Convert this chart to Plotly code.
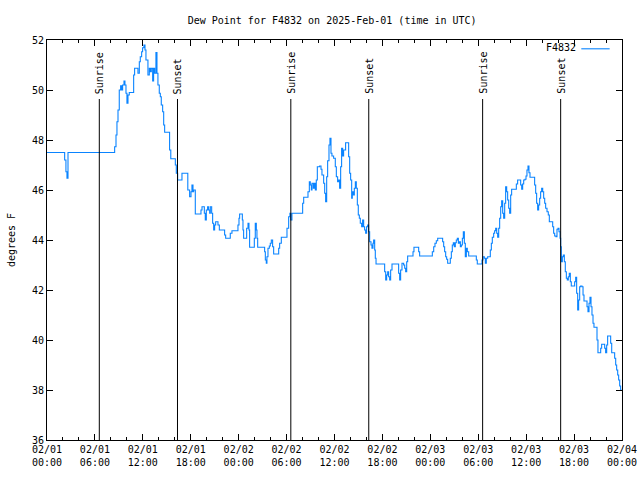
import plotly.graph_objects as go

# Hours since 2025-02-01 00:00 UTC, and dew point (F)
hours = [
    0, 2.21, 2.37, 2.5, 2.63, 8.47, 8.64, 8.76, 8.89, 9.05, 9.22, 9.34, 9.47, 9.64, 9.76, 9.89,
    10.01, 10.14, 10.30, 10.85, 10.97, 11.39, 11.56, 11.68, 11.85, 11.97, 12.14, 12.27, 12.39,
    12.64, 12.81, 12.93, 13.06, 13.23, 13.35, 13.48, 13.64, 13.77, 13.89, 14.06, 14.19, 14.31,
    14.48, 14.61, 14.73, 15.35, 15.5,
    16.07, 16.19, 16.36, 16.9, 17.63, 17.86, 18.03, 18.15, 18.28, 18.36, 18.57, 19.28, 19.41,
    19.70, 19.82, 19.95, 20.11, 20.24, 20.37, 20.45, 20.62, 20.74, 20.87, 20.99, 21.12, 21.41,
    21.58, 22.24, 22.37, 22.95, 23.16, 23.91, 24.04, 24.12, 24.46, 24.54, 24.62, 25.0, 25.17,
    25.29, 25.37, 25.96, 26.08, 26.21, 26.29, 26.38, 27.25, 27.34, 27.46, 27.54, 27.67, 27.84,
    27.96, 28.09, 28.25, 28.38, 29.01, 29.13, 29.34,
    30.05, 30.26, 30.42, 30.51, 30.67, 32.01, 32.14, 32.68, 32.85, 32.97, 33.10, 33.18, 33.35,
    33.47, 33.60, 33.72, 33.85, 34.14, 34.31, 34.43, 34.64, 34.77, 34.89, 35.02, 35.14, 35.31,
    35.43, 35.56, 35.68, 35.89, 36.10, 36.23, 36.39, 36.52, 36.64, 36.77, 36.89, 37.02, 37.14,
    37.39, 37.77, 37.90, 38.02, 38.15, 38.23, 38.35, 38.48, 38.61, 38.73, 38.86, 38.98, 39.11,
    39.23, 39.40, 39.52, 39.65, 39.77, 39.90, 40.02, 40.15, 40.27,
    40.40, 40.57, 40.69, 40.82, 40.90, 41.03, 41.11, 41.20, 42.28, 42.41, 42.53, 42.66, 42.78,
    42.91, 43.03, 43.20, 44.03, 44.16, 44.28, 44.45, 44.66, 44.79, 44.91, 45.04, 45.16, 45.83,
    45.95, 46.54, 46.66, 48.25, 48.42, 48.58, 48.75, 48.92, 49.54, 49.67, 49.79, 49.92, 50.04,
    50.17, 50.50, 50.63, 50.75, 50.88, 51.00, 51.13, 51.25, 51.38, 51.51, 51.63, 51.76, 51.88,
    52.01, 52.13, 52.26, 52.38, 52.51, 52.63, 52.80, 53.76, 53.88,
    54.47, 54.59, 54.76, 54.89, 55.01, 55.18, 55.51, 55.64, 55.76, 55.93, 56.05, 56.18, 56.31,
    56.43, 56.56, 56.68, 56.81, 56.93, 57.06, 57.18, 57.31, 57.43, 57.56, 57.68, 57.81, 57.93,
    58.06, 58.18, 58.77, 58.93, 59.31, 59.44, 59.56, 59.69, 59.85, 59.98, 60.10, 60.23, 60.35,
    60.48, 61.06, 61.19, 61.31, 61.44, 61.56, 61.69, 61.81, 61.94, 62.07, 62.19, 62.32, 62.44,
    62.61, 62.77, 62.90, 63.32, 63.44, 63.57, 63.73, 63.86, 63.99, 64.11, 64.24, 64.32, 64.40,
    64.53, 64.65, 64.78, 64.90, 65.03, 65.15, 65.28, 65.40, 65.53, 65.65, 66.07, 66.20, 66.32,
    66.45, 66.57, 66.70, 66.82, 66.99, 67.12, 67.24, 67.62, 67.74, 67.87, 67.99, 68.12, 68.24,
    68.37, 68.49, 68.87, 68.99, 69.33, 69.45, 69.83, 69.95, 70.08, 70.20, 70.58, 70.71, 71.08,
    71.21, 71.33, 71.46, 71.58, 71.71, 71.83, 71.95,
]
dewpoint = [
    47.5, 47.2, 46.73, 46.47, 47.5, 47.73, 48.2, 48.73, 49.2, 50.0, 50.17, 50.0, 50.2, 50.36, 50.2, 49.87,
    49.47, 49.8, 49.9, 50.6, 50.87, 50.67, 51.13, 51.33, 51.53, 51.69, 51.8, 51.6, 51.2,
    50.6, 50.87, 50.73, 50.87, 50.36, 50.87, 50.67, 51.5, 50.67, 50.2, 49.87, 49.73, 49.4,
    49.13, 48.6, 48.31, 47.6, 47.25,
    47.0, 46.67, 46.4, 46.67, 46.0, 45.73, 45.93, 46.2, 45.93, 46.0, 45.04, 45.2, 45.33,
    45.07, 44.8, 45.2, 45.33, 45.2, 45.07, 45.33, 45.07, 44.67, 44.4, 44.6, 44.73, 44.6,
    44.4, 44.2, 44.07, 44.27, 44.37, 44.6, 44.87, 45.04, 44.8, 44.4, 44.07, 44.47, 44.67,
    44.4, 43.71, 44.07, 44.67, 44.4, 44.07, 43.71, 43.53, 43.2, 43.07, 43.33, 43.67, 43.76,
    43.87, 44.0, 43.73, 43.44, 43.67, 43.87, 44.11,
    44.47, 44.93, 45.07, 44.8, 45.07, 45.47, 45.71, 45.93, 46.33, 46.2, 46.0, 46.27, 46.07,
    46.27, 46.0, 46.4, 46.93, 46.96, 46.83, 46.6, 46.27, 45.87, 45.53, 46.53, 47.17, 47.8,
    48.07, 47.47, 47.36, 47.27, 46.93, 46.53, 46.33, 46.4, 46.07, 46.93, 47.67, 47.36, 47.6,
    47.89, 47.33, 46.67, 46.4, 45.67, 45.93, 45.8, 46.07, 46.33, 46.07, 45.4, 45.0, 44.87,
    44.67, 44.53, 44.8, 44.53, 44.4, 44.27, 44.53, 44.6, 44.33,
    43.93, 43.8, 43.67, 43.87, 44.0, 43.6, 43.27, 43.04, 42.73, 42.4, 42.6, 42.73, 42.53,
    42.4, 42.8, 43.04, 42.67, 42.4, 42.8, 43.07, 43.0, 42.87, 42.73, 43.13, 43.36, 43.53,
    43.71, 43.53, 43.36, 43.53, 43.73, 43.87, 43.97, 44.07, 43.93, 43.73, 43.53, 43.33, 43.23,
    43.07, 43.27, 43.53, 43.8, 43.89, 43.73, 43.89, 44.0, 44.07, 43.87, 43.93, 43.73, 43.8,
    44.07, 44.33, 43.87, 43.33, 43.67, 43.53, 43.36, 43.2, 43.04,
    43.2, 43.33, 43.27, 43.07, 43.27, 43.33, 43.6, 43.87, 44.11, 44.27, 44.37, 44.47, 44.27,
    44.11, 44.47, 44.87, 45.33, 45.57, 45.07, 44.87, 45.47, 46.13, 45.93, 45.6, 45.27, 45.07,
    45.8, 46.03, 46.24, 46.4, 46.2, 46.03, 46.24, 46.4, 46.43, 46.56, 46.8, 46.96, 46.69,
    46.51, 46.2, 45.87, 45.47, 45.2, 45.4, 45.67, 45.93, 46.07, 45.93, 45.67, 45.47, 45.27,
    45.13, 45.0, 44.73, 44.53, 44.27, 44.16, 44.13, 44.43, 44.47, 44.33, 44.07, 43.73, 43.13,
    43.33, 43.4, 43.13, 42.73, 42.47, 42.4, 42.53, 42.67, 42.33, 42.16, 42.33, 42.51, 41.87,
    41.2, 41.6, 42.13, 42.16, 42.13, 41.8, 41.56, 41.33, 41.13, 41.47, 41.71, 41.33, 41.0,
    40.67, 40.51, 40.0, 39.49, 39.67, 39.83, 39.67, 39.49, 39.8, 40.16, 39.87, 39.49, 39.27,
    39.0, 38.8, 38.6, 38.4, 38.16, 38.0, 38.0,
]

sun_hours = [6.55, 16.34, 30.53, 40.29, 54.55, 64.32]
sun_labels = ["Sunrise", "Sunset", "Sunrise", "Sunset", "Sunrise", "Sunset"]
sun_line_top = 49.64

x_tickvals = [0, 6, 12, 18, 24, 30, 36, 42, 48, 54, 60, 66, 72]
x_ticktext = ["02/01<br>00:00", "02/01<br>06:00", "02/01<br>12:00", "02/01<br>18:00",
              "02/02<br>00:00", "02/02<br>06:00", "02/02<br>12:00", "02/02<br>18:00",
              "02/03<br>00:00", "02/03<br>06:00", "02/03<br>12:00", "02/03<br>18:00",
              "02/04<br>00:00"]
y_tickvals = [36, 38, 40, 42, 44, 46, 48, 50, 52]

FONT = "DejaVu Sans Mono"
LINE_COLOR = "#0a84ff"

fig = go.Figure()
fig.add_trace(go.Scatter(
    x=hours, y=dewpoint, mode="lines", line=dict(color=LINE_COLOR, width=1.1, shape="hv"),
    name="F4832", showlegend=False, hoverinfo="skip",
))

for h, lab in zip(sun_hours, sun_labels):
    fig.add_shape(type="line", xref="x", yref="y", x0=h, x1=h, y0=36, y1=sun_line_top,
                  line=dict(color="black", width=1))
    fig.add_annotation(x=h, y=sun_line_top, xref="x", yref="y", text=lab, textangle=-90,
                       showarrow=False, xanchor="center", yanchor="bottom", yshift=3,
                       font=dict(family=FONT, size=10, color="black"))

# legend (text left of line sample, as in the reference)
fig.add_annotation(x=0.9228, y=0.981, xref="paper", yref="paper", text="F4832",
                   showarrow=False, xanchor="right", yanchor="middle",
                   font=dict(family=FONT, size=10, color="black"))
fig.add_shape(type="line", xref="paper", yref="paper", x0=0.9292, x1=0.9785, y0=0.978, y1=0.978,
              line=dict(color=LINE_COLOR, width=1.1))

fig.update_layout(
    width=640, height=480,
    margin=dict(l=47, r=18, t=40, b=40, autoexpand=False),
    paper_bgcolor="white", plot_bgcolor="white",
    font=dict(family=FONT, size=10, color="black"),
    title=dict(text="Dew Point for F4832 on 2025-Feb-01 (time in UTC)", x=0.519, xanchor="center",
               y=0.958, yanchor="middle", font=dict(family=FONT, size=10, color="black")),
    showlegend=False,
)
fig.update_xaxes(
    range=[0, 72], tickvals=x_tickvals, ticktext=x_ticktext, automargin=False,
    ticks="inside", ticklen=6, tickcolor="black", tickwidth=1,
    showline=True, linecolor="black", linewidth=1, mirror="ticks",
    showgrid=False, zeroline=False,
    minor=dict(dtick=2, tick0=0, ticks="inside", ticklen=3, tickcolor="black", showgrid=False),
    tickfont=dict(family=FONT, size=10, color="black"),
)
fig.update_yaxes(
    range=[36, 52], tickvals=y_tickvals, automargin=False,
    ticks="inside", ticklen=6, tickcolor="black", tickwidth=1,
    showline=True, linecolor="black", linewidth=1, mirror="ticks",
    showgrid=False, zeroline=False,
    title=dict(text="degrees F", font=dict(family=FONT, size=10, color="black"), standoff=14),
    tickfont=dict(family=FONT, size=10, color="black"),
)

fig.write_html("out.html")
